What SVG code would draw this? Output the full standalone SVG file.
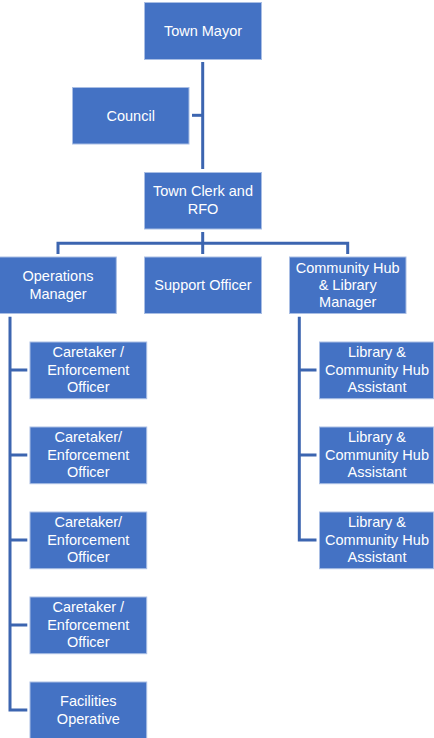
<svg xmlns="http://www.w3.org/2000/svg" width="434" height="738" viewBox="0 0 434 738">
  <style>
    .box { fill: #4472C4; stroke: #A9BEE4; stroke-width: 1; }
    .lbl { fill: #FFFFFF; font-family: "Liberation Sans", Arial, sans-serif; font-size: 14.5px; text-anchor: middle; }
    .conn { fill: none; stroke: #3C65B0; stroke-width: 3; }
  </style>
  <rect width="434" height="738" fill="#FFFFFF"/>

  <!-- connectors -->
  <g id="connectors">
    <path class="conn" d="M202.7,62 V169"/>
    <path class="conn" d="M192,115.3 H202.7"/>
    <path class="conn" d="M202.7,232 V254 M58,254 V243.3 H347.7 V254"/>
    <path class="conn" d="M10,316.7 V710 H27.3 M10,370 H27.3 M10,455 H27.3 M10,540 H27.3 M10,625 H27.3"/>
    <path class="conn" d="M299.3,316.7 V540 H316.5 M299.3,370 H316.5 M299.3,455 H316.5"/>
  </g>

  <g id="town-mayor">
    <rect class="box" x="144.5" y="2.5" width="117" height="57"/>
    <text class="lbl" x="203" y="35.5">Town Mayor</text>
  </g>
  <g id="council">
    <rect class="box" x="72.5" y="87.5" width="116.5" height="56.5"/>
    <text class="lbl" x="130.7" y="120.5">Council</text>
  </g>
  <g id="town-clerk">
    <rect class="box" x="144.5" y="172.5" width="117" height="56.5"/>
    <text class="lbl" x="203" y="196">Town Clerk and</text>
    <text class="lbl" x="203" y="213.5">RFO</text>
  </g>

  <g id="operations-manager">
    <rect class="box" x="-0.5" y="257" width="116.8" height="56.5"/>
    <text class="lbl" x="58" y="281">Operations</text>
    <text class="lbl" x="58" y="298.5">Manager</text>
  </g>
  <g id="support-officer">
    <rect class="box" x="144.5" y="257" width="117" height="56.5"/>
    <text class="lbl" x="203" y="290">Support Officer</text>
  </g>
  <g id="community-hub-manager">
    <rect class="box" x="289.5" y="257" width="116.5" height="56.5"/>
    <text class="lbl" x="347.7" y="272.5">Community Hub</text>
    <text class="lbl" x="347.7" y="289.5">&amp; Library</text>
    <text class="lbl" x="347.7" y="306.5">Manager</text>
  </g>

  <g id="caretaker-1">
    <rect class="box" x="30" y="342" width="116.7" height="56.7"/>
    <text class="lbl" x="88.3" y="357.3">Caretaker /</text>
    <text class="lbl" x="88.3" y="374.5">Enforcement</text>
    <text class="lbl" x="88.3" y="391.7">Officer</text>
  </g>
  <g id="caretaker-2">
    <rect class="box" x="30" y="427" width="116.7" height="56.7"/>
    <text class="lbl" x="88.3" y="442.3">Caretaker/</text>
    <text class="lbl" x="88.3" y="459.5">Enforcement</text>
    <text class="lbl" x="88.3" y="476.7">Officer</text>
  </g>
  <g id="caretaker-3">
    <rect class="box" x="30" y="512" width="116.7" height="56.7"/>
    <text class="lbl" x="88.3" y="527.3">Caretaker/</text>
    <text class="lbl" x="88.3" y="544.5">Enforcement</text>
    <text class="lbl" x="88.3" y="561.7">Officer</text>
  </g>
  <g id="caretaker-4">
    <rect class="box" x="30" y="597" width="116.7" height="56.7"/>
    <text class="lbl" x="88.3" y="612.3">Caretaker /</text>
    <text class="lbl" x="88.3" y="629.5">Enforcement</text>
    <text class="lbl" x="88.3" y="646.7">Officer</text>
  </g>
  <g id="facilities-operative">
    <rect class="box" x="30" y="682" width="116.7" height="56.7"/>
    <text class="lbl" x="88.3" y="706">Facilities</text>
    <text class="lbl" x="88.3" y="723.5">Operative</text>
  </g>

  <g id="library-assistant-1">
    <rect class="box" x="319.5" y="342" width="114" height="56.7"/>
    <text class="lbl" x="377" y="357.3">Library &amp;</text>
    <text class="lbl" x="377" y="374.5">Community Hub</text>
    <text class="lbl" x="377" y="391.7">Assistant</text>
  </g>
  <g id="library-assistant-2">
    <rect class="box" x="319.5" y="427" width="114" height="56.7"/>
    <text class="lbl" x="377" y="442.3">Library &amp;</text>
    <text class="lbl" x="377" y="459.5">Community Hub</text>
    <text class="lbl" x="377" y="476.7">Assistant</text>
  </g>
  <g id="library-assistant-3">
    <rect class="box" x="319.5" y="512" width="114" height="56.7"/>
    <text class="lbl" x="377" y="527.3">Library &amp;</text>
    <text class="lbl" x="377" y="544.5">Community Hub</text>
    <text class="lbl" x="377" y="561.7">Assistant</text>
  </g>
</svg>
